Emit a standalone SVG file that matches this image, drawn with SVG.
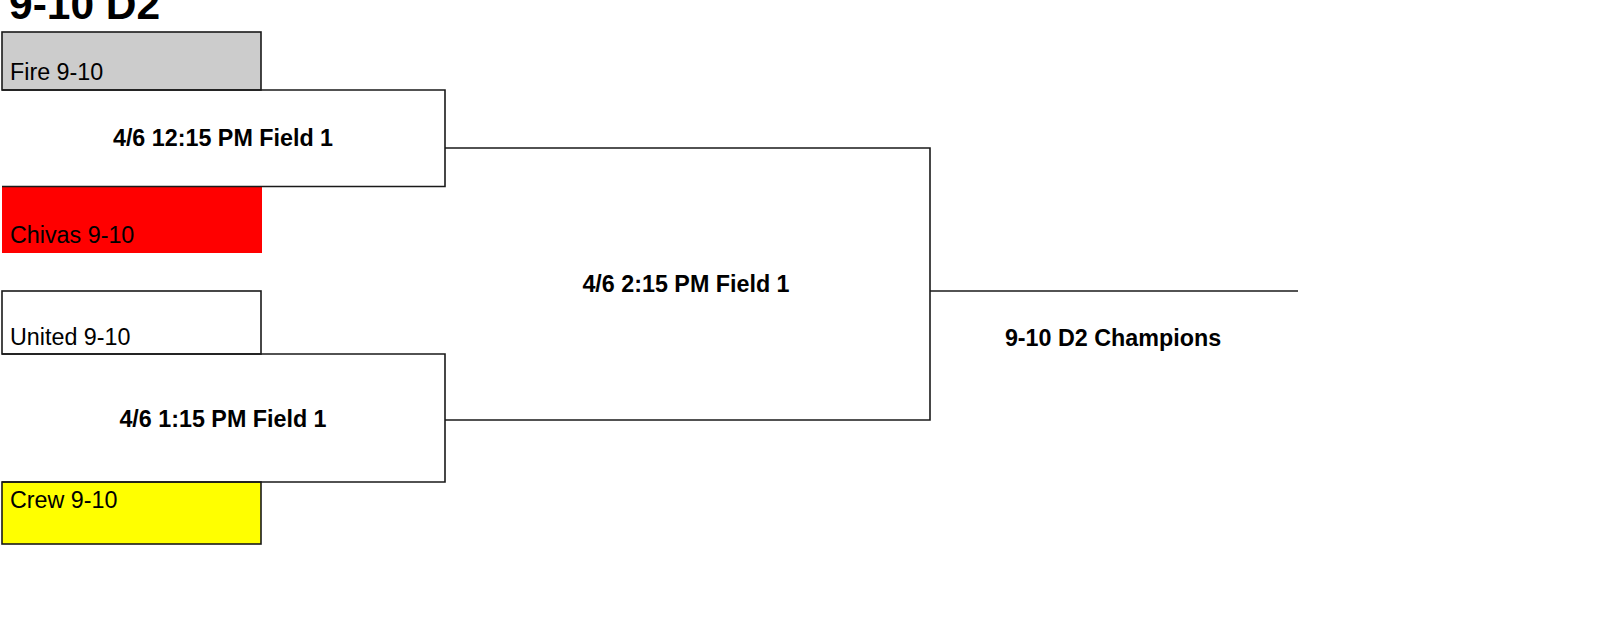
<svg xmlns="http://www.w3.org/2000/svg" width="1600" height="623" viewBox="0 0 1600 623">
<style>
.box{stroke:#1a1a1a;stroke-width:1.6}
.line{fill:none;stroke:#1a1a1a;stroke-width:1.6}
.team{font-family:"Liberation Sans",Arial,sans-serif;font-size:23.3px;fill:#000}
.game{font-family:"Liberation Sans",Arial,sans-serif;font-size:23.3px;font-weight:bold;fill:#000;text-anchor:middle}
.title{font-family:"Liberation Sans",Arial,sans-serif;font-size:42.5px;font-weight:bold;fill:#000}
</style>
<rect width="1600" height="623" fill="#fff"/>
<text class="title" x="9" y="19">9-10 D2</text>
<g id="team-fire">
<rect class="box" x="2" y="32" width="259" height="58" fill="#cccccc"/>
<text class="team" x="10" y="80">Fire 9-10</text>
</g>
<g id="team-chivas">
<rect x="2" y="187" width="260" height="66" fill="#ff0000"/>
<text class="team" x="10" y="243">Chivas 9-10</text>
</g>
<g id="team-united">
<rect class="box" x="2" y="291" width="259" height="63" fill="#ffffff"/>
<text class="team" x="10" y="345">United 9-10</text>
</g>
<g id="team-crew">
<rect class="box" x="2" y="482" width="259" height="62" fill="#ffff00"/>
<text class="team" x="10" y="508">Crew 9-10</text>
</g>
<g id="game1">
<path class="line" d="M2,90 H445 V186.5 H2"/>
<text class="game" x="223" y="146">4/6 12:15 PM Field 1</text>
</g>
<g id="game2">
<path class="line" d="M2,354 H445 V482 H2"/>
<text class="game" x="223" y="427">4/6 1:15 PM Field 1</text>
</g>
<g id="connectors">
<path class="line" d="M445,148 H930 V420 H445"/>
<path class="line" d="M930,291 H1298"/>
</g>
<g id="final">
<text class="game" x="686" y="292">4/6 2:15 PM Field 1</text>
</g>
<g id="champion">
<text class="game" x="1113" y="346">9-10 D2 Champions</text>
</g>
</svg>
